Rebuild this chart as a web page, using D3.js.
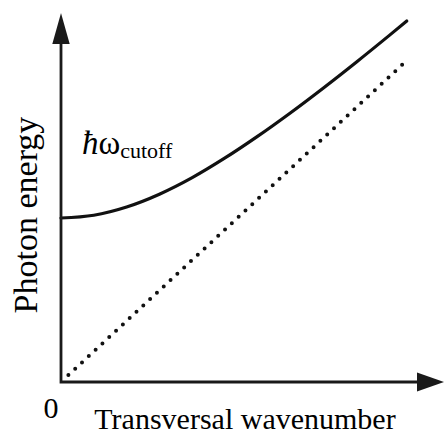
<!DOCTYPE html>
<html>
<head>
<meta charset="utf-8">
<script src="https://cdn.jsdelivr.net/npm/d3@7"></script>
<style>
  html, body { margin: 0; padding: 0; background: #fff; }
  svg { display: block; }
  text { font-family: "Liberation Serif", "Times New Roman", serif; fill: #000; }
</style>
</head>
<body>
<svg id="chart" width="444" height="436"></svg>
<script>
// Data (units: photon energy relative to cutoff)
const wavenumber = [0, 0.2, 0.4, 0.6, 0.8, 1.0, 1.2, 1.4, 1.6, 1.8, 2.0, 2.108];
const photonEnergy = [1.000, 1.017, 1.067, 1.145, 1.246, 1.366, 1.499, 1.642, 1.793, 1.950, 2.112, 2.201];
const lightLineK = [0.045, 2.10];
const lightLineE = [0.042, 1.953];
const xLabel = "Transversal wavenumber";
const yLabel = "Photon energy";
const originLabel = "0";

const svg = d3.select("#chart");
const x = d3.scaleLinear().domain([0, 2.335]).range([61, 444]);
const y = d3.scaleLinear().domain([0, 2.25]).range([382, 13]);

const line = d3.line().x(d => x(d[0])).y(d => y(d[1]));

// Light line (dotted)
svg.append("path")
  .datum(lightLineK.map((k, i) => [k, lightLineE[i]]))
  .attr("d", line)
  .attr("fill", "none")
  .attr("stroke", "#111")
  .attr("stroke-width", 4)
  .attr("stroke-linecap", "round")
  .attr("stroke-dasharray", "0,9.3");

// Dispersion curve
svg.append("path")
  .datum(wavenumber.map((k, i) => [k, photonEnergy[i]]))
  .attr("d", line.curve(d3.curveMonotoneX))
  .attr("fill", "none")
  .attr("stroke", "#111")
  .attr("stroke-width", 3.2)
  .attr("stroke-linecap", "round");

// Axes with arrowheads
const x0 = x(0), y0 = y(0);
const xEnd = x.range()[1], yEnd = y.range()[1];
svg.append("path")
  .attr("d", `M${x0},${yEnd + 25}L${x0},${y0}L${xEnd - 22},${y0}`)
  .attr("fill", "none")
  .attr("stroke", "#1a1a1a")
  .attr("stroke-width", 2.8);
svg.append("path")
  .attr("d", `M${x0},${yEnd}L${x0 + 8.7},${yEnd + 31}L${x0 - 8.7},${yEnd + 31}Z`)
  .attr("fill", "#1a1a1a");
svg.append("path")
  .attr("d", `M${xEnd},${y0}L${xEnd - 27},${y0 - 9.5}L${xEnd - 27},${y0 + 9.5}Z`)
  .attr("fill", "#1a1a1a");

// Labels
svg.append("text")
  .attr("transform", "translate(37,215) rotate(-90)")
  .attr("text-anchor", "middle")
  .attr("font-size", 34)
  .text(yLabel);

svg.append("text")
  .attr("x", 245).attr("y", 429)
  .attr("text-anchor", "middle")
  .attr("font-size", 30)
  .text(xLabel);

svg.append("text")
  .attr("x", 51).attr("y", 418)
  .attr("text-anchor", "middle")
  .attr("font-size", 30)
  .text(originLabel);

const cut = svg.append("text").attr("x", 82).attr("y", 154).attr("font-size", 33);
cut.append("tspan").attr("font-style", "italic").text("\u0127");
cut.append("tspan").text("\u03C9");
cut.append("tspan").attr("font-size", 22).attr("dy", 4).text("cutoff");
</script>
</body>
</html>
